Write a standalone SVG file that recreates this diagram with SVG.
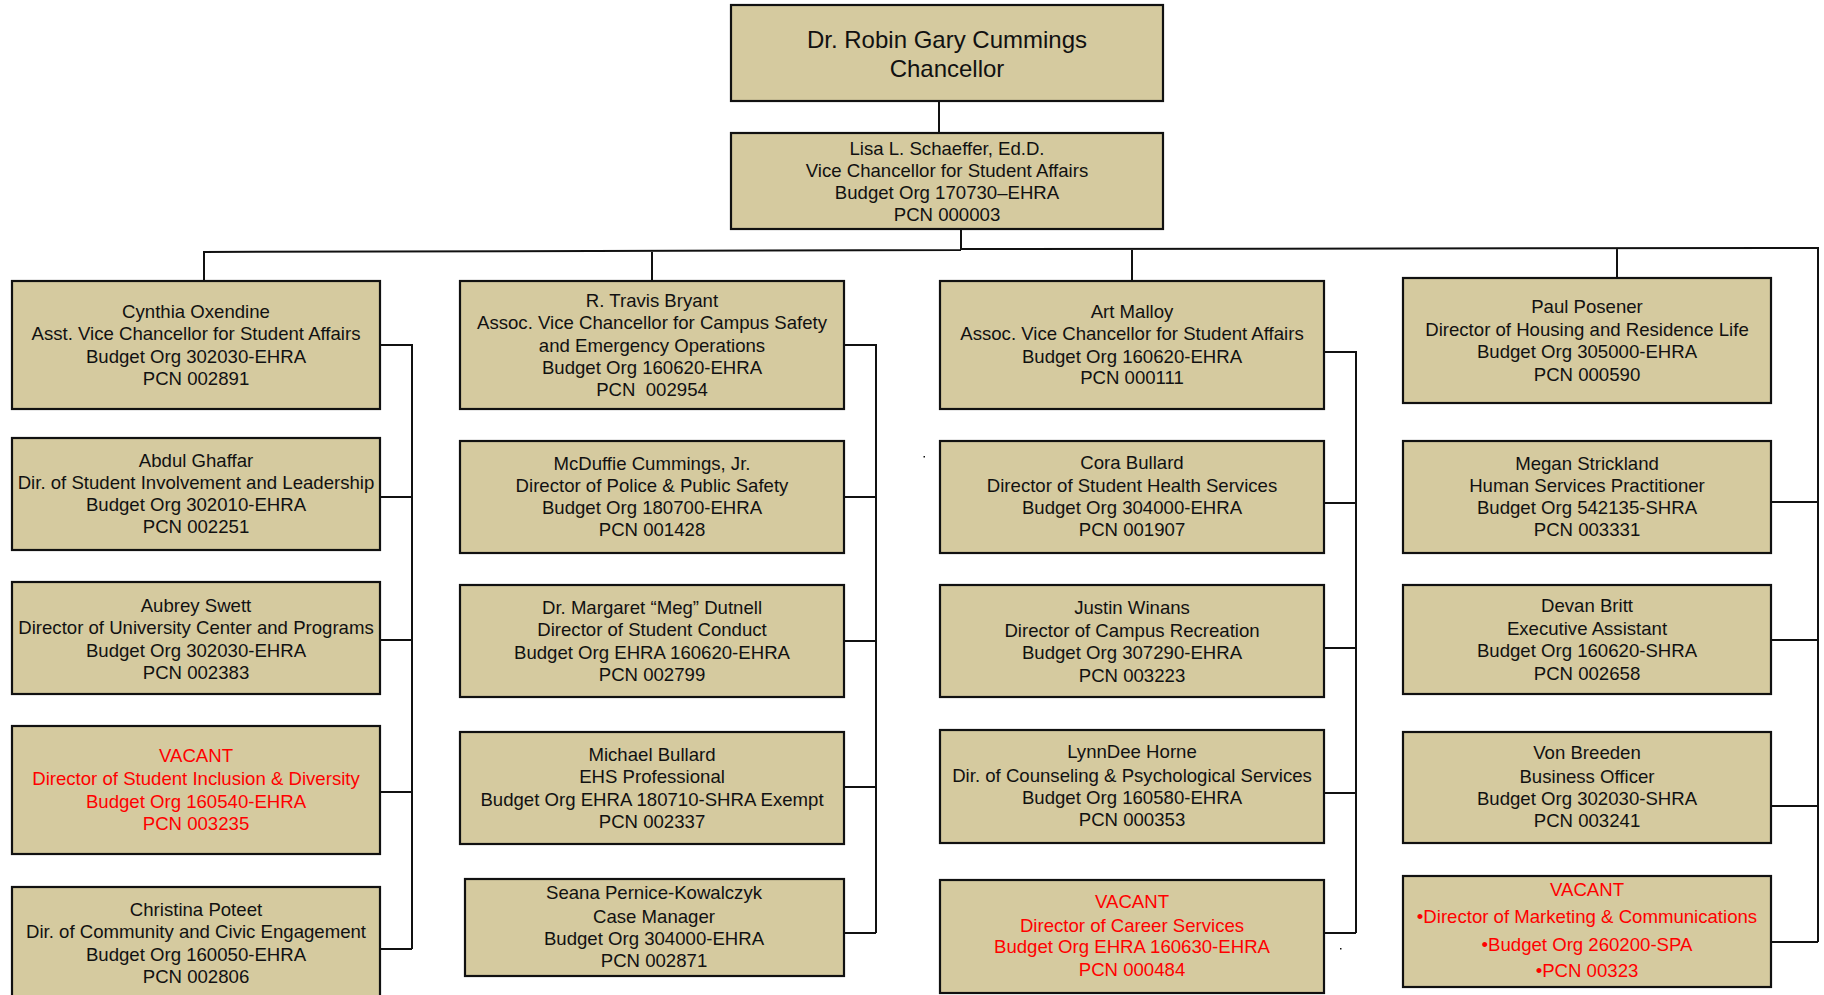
<svg xmlns="http://www.w3.org/2000/svg" width="1824" height="995" viewBox="0 0 1824 995">
<style>
.box{fill:#D5CA9F;stroke:#111;stroke-width:2.2}
.t{font-family:"Liberation Sans",Arial,sans-serif;font-size:18.6px;fill:#111;text-anchor:middle}
.big{font-size:24px}
.red{fill:#F00}
.ln{stroke:#111;stroke-width:2;fill:none}
</style>
<rect width="1824" height="995" fill="#fff"/>
<g id="connectors">
<path class="ln" d="M939,101V133M961,229V250M204,281V252L961,250M961,249L1818,248V942M652,281V251M1132,281V249M1617,278V249"/>
<path class="ln" d="M380,345H412V949M380,497H412M380,640H412M380,792H412M380,949H412"/>
<path class="ln" d="M844,345H876V933M844,497H876M844,641H876M844,787H876M844,933H876"/>
<path class="ln" d="M1324,352H1356V933M1324,503H1356M1324,648H1356M1324,793H1356M1324,933H1356"/>
<path class="ln" d="M1771,502H1818M1771,640H1818M1771,806H1818M1771,942H1818"/>
<rect x="923.5" y="456" width="1.5" height="1.5" fill="#111"/>
<rect x="1340" y="948" width="1.5" height="1.5" fill="#111"/>
</g>
<g id="chancellor"><rect class="box" x="731" y="5" width="432" height="96"/>
<text class="t big" x="947" y="47.5">Dr. Robin Gary Cummings</text><text class="t big" x="947" y="76.5">Chancellor</text></g>
<g id="vice-chancellor"><rect class="box" x="731" y="133" width="432" height="96"/>
<text class="t" x="947" y="154.5">Lisa L. Schaeffer, Ed.D.</text><text class="t" x="947" y="176.5">Vice Chancellor for Student Affairs</text><text class="t" x="947" y="199">Budget Org 170730–EHRA</text><text class="t" x="947" y="221">PCN 000003</text></g>

<g id="oxendine"><rect class="box" x="12" y="281" width="368" height="128"/>
<text class="t" x="196" y="318">Cynthia Oxendine</text><text class="t" x="196" y="340">Asst. Vice Chancellor for Student Affairs</text><text class="t" x="196" y="362.5">Budget Org 302030-EHRA</text><text class="t" x="196" y="384.5">PCN 002891</text></g>
<g id="ghaffar"><rect class="box" x="12" y="438" width="368" height="112"/>
<text class="t" x="196" y="467">Abdul Ghaffar</text><text class="t" x="196" y="488.5">Dir. of Student Involvement and Leadership</text><text class="t" x="196" y="511">Budget Org 302010-EHRA</text><text class="t" x="196" y="533">PCN 002251</text></g>
<g id="swett"><rect class="box" x="12" y="582" width="368" height="112"/>
<text class="t" x="196" y="612">Aubrey Swett</text><text class="t" x="196" y="633.5">Director of University Center and Programs</text><text class="t" x="196" y="656.5">Budget Org 302030-EHRA</text><text class="t" x="196" y="678.5">PCN 002383</text></g>
<g id="vacant-inclusion"><rect class="box" x="12" y="726" width="368" height="128"/>
<text class="t red" x="196" y="762">VACANT</text><text class="t red" x="196" y="785">Director of Student Inclusion &amp; Diversity</text><text class="t red" x="196" y="808">Budget Org 160540-EHRA</text><text class="t red" x="196" y="829.5">PCN 003235</text></g>
<g id="poteet"><rect class="box" x="12" y="887" width="368" height="120"/>
<text class="t" x="196" y="916">Christina Poteet</text><text class="t" x="196" y="938">Dir. of Community and Civic Engagement</text><text class="t" x="196" y="961">Budget Org 160050-EHRA</text><text class="t" x="196" y="982.5">PCN 002806</text></g>

<g id="bryant"><rect class="box" x="460" y="281" width="384" height="128"/>
<text class="t" x="652" y="307">R. Travis Bryant</text><text class="t" x="652" y="329">Assoc. Vice Chancellor for Campus Safety</text><text class="t" x="652" y="352">and Emergency Operations</text><text class="t" x="652" y="374">Budget Org 160620-EHRA</text><text class="t" x="652" y="396" xml:space="preserve">PCN  002954</text></g>
<g id="cummings"><rect class="box" x="460" y="441" width="384" height="112"/>
<text class="t" x="652" y="470">McDuffie Cummings, Jr.</text><text class="t" x="652" y="492">Director of Police &amp; Public Safety</text><text class="t" x="652" y="514">Budget Org 180700-EHRA</text><text class="t" x="652" y="536">PCN 001428</text></g>
<g id="dutnell"><rect class="box" x="460" y="585" width="384" height="112"/>
<text class="t" x="652" y="614">Dr. Margaret “Meg” Dutnell</text><text class="t" x="652" y="636">Director of Student Conduct</text><text class="t" x="652" y="659">Budget Org EHRA 160620-EHRA</text><text class="t" x="652" y="681">PCN 002799</text></g>
<g id="bullard-m"><rect class="box" x="460" y="732" width="384" height="112"/>
<text class="t" x="652" y="761">Michael Bullard</text><text class="t" x="652" y="783">EHS Professional</text><text class="t" x="652" y="806">Budget Org EHRA 180710-SHRA Exempt</text><text class="t" x="652" y="828">PCN 002337</text></g>
<g id="pernice"><rect class="box" x="465" y="879" width="379" height="97"/>
<text class="t" x="654" y="899">Seana Pernice-Kowalczyk</text><text class="t" x="654" y="922.5">Case Manager</text><text class="t" x="654" y="945">Budget Org 304000-EHRA</text><text class="t" x="654" y="967">PCN 002871</text></g>

<g id="malloy"><rect class="box" x="940" y="281" width="384" height="128"/>
<text class="t" x="1132" y="318">Art Malloy</text><text class="t" x="1132" y="340">Assoc. Vice Chancellor for Student Affairs</text><text class="t" x="1132" y="363">Budget Org 160620-EHRA</text><text class="t" x="1132" y="384">PCN 000111</text></g>
<g id="bullard-c"><rect class="box" x="940" y="441" width="384" height="112"/>
<text class="t" x="1132" y="469">Cora Bullard</text><text class="t" x="1132" y="492">Director of Student Health Services</text><text class="t" x="1132" y="514">Budget Org 304000-EHRA</text><text class="t" x="1132" y="536">PCN 001907</text></g>
<g id="winans"><rect class="box" x="940" y="585" width="384" height="112"/>
<text class="t" x="1132" y="614">Justin Winans</text><text class="t" x="1132" y="637">Director of Campus Recreation</text><text class="t" x="1132" y="659">Budget Org 307290-EHRA</text><text class="t" x="1132" y="682">PCN 003223</text></g>
<g id="horne"><rect class="box" x="940" y="730" width="384" height="113"/>
<text class="t" x="1132" y="758">LynnDee Horne</text><text class="t" x="1132" y="782">Dir. of Counseling &amp; Psychological Services</text><text class="t" x="1132" y="804">Budget Org 160580-EHRA</text><text class="t" x="1132" y="826">PCN 000353</text></g>
<g id="vacant-career"><rect class="box" x="940" y="880" width="384" height="113"/>
<text class="t red" x="1132" y="908">VACANT</text><text class="t red" x="1132" y="932">Director of Career Services</text><text class="t red" x="1132" y="953">Budget Org EHRA 160630-EHRA</text><text class="t red" x="1132" y="976">PCN 000484</text></g>

<g id="posener"><rect class="box" x="1403" y="278" width="368" height="125"/>
<text class="t" x="1587" y="313">Paul Posener</text><text class="t" x="1587" y="336">Director of Housing and Residence Life</text><text class="t" x="1587" y="358">Budget Org 305000-EHRA</text><text class="t" x="1587" y="381">PCN 000590</text></g>
<g id="strickland"><rect class="box" x="1403" y="441" width="368" height="112"/>
<text class="t" x="1587" y="470">Megan Strickland</text><text class="t" x="1587" y="492">Human Services Practitioner</text><text class="t" x="1587" y="514">Budget Org 542135-SHRA</text><text class="t" x="1587" y="536">PCN 003331</text></g>
<g id="britt"><rect class="box" x="1403" y="585" width="368" height="109"/>
<text class="t" x="1587" y="612">Devan Britt</text><text class="t" x="1587" y="635">Executive Assistant</text><text class="t" x="1587" y="657">Budget Org 160620-SHRA</text><text class="t" x="1587" y="680">PCN 002658</text></g>
<g id="breeden"><rect class="box" x="1403" y="732" width="368" height="111"/>
<text class="t" x="1587" y="759">Von Breeden</text><text class="t" x="1587" y="783">Business Officer</text><text class="t" x="1587" y="805">Budget Org 302030-SHRA</text><text class="t" x="1587" y="827">PCN 003241</text></g>
<g id="vacant-marketing"><rect class="box" x="1403" y="876" width="368" height="111"/>
<text class="t red" x="1587" y="896">VACANT</text><text class="t red" x="1587" y="923">•Director of Marketing &amp; Communications</text><text class="t red" x="1587" y="951">•Budget Org 260200-SPA</text><text class="t red" x="1587" y="977">•PCN 00323</text></g>
</svg>
